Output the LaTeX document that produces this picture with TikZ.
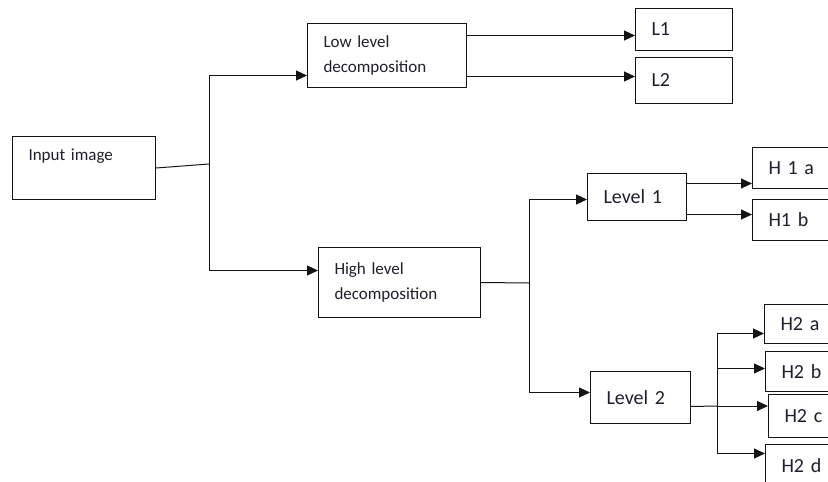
\documentclass[tikz,border=0pt]{standalone}
\usepackage{fontspec}
\setmainfont{Carlito}
\usetikzlibrary{arrows.meta}
\definecolor{txt}{RGB}{30,30,45}
\definecolor{ln}{RGB}{20,20,20}
\tikzset{
  box/.style={draw=ln, line width=1pt, anchor=north west, align=left,
    inner xsep=16pt, inner ysep=0pt, text=txt},
  smallf/.style={font=\fontsize{17}{25}\selectfont},
  bigf/.style={font=\fontsize{20}{24}\selectfont},
  conn/.style={draw=ln, line width=1pt},
  arr/.style={conn, -{Triangle[length=11pt,width=10pt]}}
}
\begin{document}
\begin{tikzpicture}[x=1pt,y=-1pt]
\useasboundingbox (0,0) rectangle (828,482);
\clip (0,0) rectangle (828,482);
% boxes
\node[box, smallf, text width=111pt, minimum width=143pt, text height=24pt, text depth=39pt] (in) at (12,136) {Input image};
\node[box, smallf, text width=127pt, minimum width=159pt, minimum height=64pt] (low) at (307,23) {Low level\\decomposition};
\node[box, bigf, text width=65pt, minimum width=97pt, minimum height=42pt] (l1) at (635,8) {L1};
\node[box, bigf, text width=65pt, minimum width=97pt, minimum height=46pt] (l2) at (635,57) {L2};
\node[box, smallf, text width=130pt, minimum width=162pt, minimum height=70pt] (high) at (318,247) {High level\\decomposition};
\node[box, bigf, text width=67pt, minimum width=99pt, minimum height=47pt] (lv1) at (587,173) {Level 1};
\node[box, bigf, text width=68pt, minimum width=100pt, minimum height=52pt] (lv2) at (590,371) {Level 2};
\node[box, bigf, text width=51pt, minimum width=83pt, minimum height=41pt] (h1a) at (752,147) {H 1 a};
\node[box, bigf, text width=51pt, minimum width=83pt, minimum height=41pt] (h1b) at (752,199) {H1 b};
\node[box, bigf, text width=40pt, minimum width=72pt, minimum height=39pt] (h2a) at (764,304) {H2 a};
\node[box, bigf, text width=40pt, minimum width=72pt, minimum height=40pt] (h2b) at (765,351) {H2 b};
\node[box, bigf, text width=40pt, minimum width=72pt, minimum height=43pt] (h2c) at (768,394) {H2 c};
\node[box, bigf, text width=40pt, minimum width=72pt, minimum height=42pt] (h2d) at (765,444) {H2 d};
% junctions
\coordinate (j1) at (209,164);
\coordinate (j2) at (529,283);
\coordinate (j3) at (717,406);
% connectors
\draw[conn] (in.east) -- (j1);
\draw[arr] (j1) |- ([yshift=-20pt]low.west);
\draw[arr] (j1) |- ([yshift=12pt]high.west);
\draw[arr] ([yshift=20pt]low.east) -- ([yshift=20pt]low.east -| l1.west);
\draw[arr] ([yshift=-21pt]low.east) -- ([yshift=-21pt]low.east -| l2.west);
\draw[conn] (high.east) -- (j2);
\draw[arr] (j2) |- ([yshift=-2.5pt]lv1.west);
\draw[arr] (j2) |- ([yshift=5pt]lv2.west);
\draw[arr] ([yshift=13.5pt]lv1.east) -- ([yshift=13.5pt]lv1.east -| h1a.west);
\draw[arr] ([yshift=-17.5pt]lv1.east) -- ([yshift=-17.5pt]lv1.east -| h1b.west);
\draw[conn] ([yshift=-9pt]lv2.east) -- (j3);
\draw[arr] (j3) -- (j3 -| h2c.west);
\draw[arr] (j3) |- ([yshift=-9.5pt]h2a.west);
\draw[arr] (j3) |- ([yshift=3pt]h2b.west);
\draw[arr] (j3) |- ([yshift=12pt]h2d.west);
\end{tikzpicture}
\end{document}
